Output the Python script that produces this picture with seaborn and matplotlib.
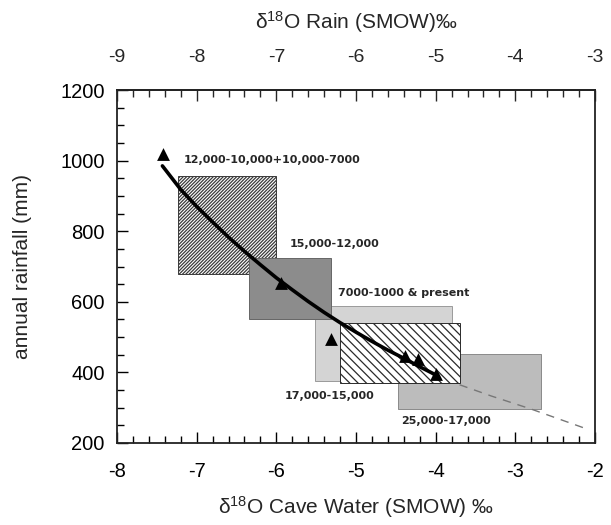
import numpy as np
import pandas as pd
import matplotlib
matplotlib.use("Agg")
import matplotlib.pyplot as plt
from matplotlib.patches import Rectangle
from matplotlib.ticker import MultipleLocator, FixedLocator
import seaborn as sns

# ---- data ----
curve_x = [-7.43, -7.2, -7.0, -6.8, -6.6, -6.4, -6.2, -6.0, -5.8, -5.6,
           -5.4, -5.2, -5.0, -4.8, -4.6, -4.4, -4.2, -4.0]
curve_y = [985, 918, 870, 826, 783, 743, 705, 668, 634, 601,
           570, 541, 514, 488, 463, 440, 416, 393]
dash_x = [-3.7, -3.3, -2.8, -2.13]
dash_y = [365, 333, 296, 242]
tri_x = [-7.42, -5.94, -5.31, -4.38, -4.22, -4.0]
tri_y = [1018, 654, 494, 446, 437, 395]

rain_ticks = [-9, -8, -7, -6, -5, -4, -3]

box_names = ["12,000-10,000+10,000-7000", "17,000-15,000", "25,000-17,000",
             "15,000-12,000", "7000-1000 & present"]
box_x0 = [-7.24, -5.51, -4.47, -6.34, -5.2]
box_x1 = [-6.01, -3.80, -2.675, -5.32, -3.7]
box_y0 = [680, 376, 295, 550, 371]
box_y1 = [956, 588, 453, 725, 541]
box_face = ["white", "#d4d4d4", "#bcbcbc", "#8c8c8c", "white"]
box_hatch = ["/" * 10, None, None, None, "\\" * 4]
box_edge = ["#3a3a3a", "#9a9a9a", "#8a8a8a", "#666666", "#2a2a2a"]

label_x = [-7.16, -4.77, -4.43, -5.83, -5.22]
label_y = [1001, 333, 262, 763, 624]
label_ha = ["left", "right", "left", "left", "left"]

sns.set_style("ticks")
plt.rcParams["font.family"] = ["Liberation Sans", "DejaVu Sans"]
plt.rcParams["mathtext.default"] = "regular"
plt.rcParams["axes.unicode_minus"] = False
plt.rcParams["hatch.linewidth"] = 0.9

fig = plt.figure(figsize=(6.11, 5.25), dpi=100)
ax = fig.add_axes([117 / 611, 1 - 443 / 525, (595 - 117) / 611, (443 - 90) / 525])

for i in range(len(box_names)):
    r = Rectangle((box_x0[i], box_y0[i]), box_x1[i] - box_x0[i], box_y1[i] - box_y0[i],
                  facecolor=box_face[i], edgecolor=box_edge[i], hatch=box_hatch[i],
                  linewidth=0.7, zorder=2 + i * 0.1)
    ax.add_patch(r)
    ax.text(label_x[i], label_y[i], box_names[i], ha=label_ha[i], va="center",
            fontsize=8, fontweight="bold", family="DejaVu Sans", zorder=6)

sns.lineplot(x=dash_x, y=dash_y, ax=ax, color="#777777", lw=1.0,
             linestyle=(0, (6, 5)), zorder=3.45)
sns.lineplot(x=curve_x, y=curve_y, ax=ax, color="black", lw=2.6, zorder=4)
sns.scatterplot(x=tri_x, y=tri_y, ax=ax, marker="^", color="black", s=85,
                edgecolor="black", linewidth=0, zorder=5)

ax.set_xlim(-8, -2)
ax.set_ylim(200, 1200)
ax.xaxis.set_major_locator(MultipleLocator(1))
ax.xaxis.set_minor_locator(MultipleLocator(0.2))
ax.yaxis.set_major_locator(MultipleLocator(200))
ax.yaxis.set_minor_locator(MultipleLocator(50))
ax.tick_params(which="both", direction="in", right=False, top=False, width=1.0, colors="black")
ax.tick_params(which="major", length=8, labelsize=14.5)
ax.tick_params(axis="x", which="major", pad=14)
ax.tick_params(axis="y", which="major", pad=9)
ax.tick_params(which="minor", length=5)
for s in ax.spines.values():
    s.set_linewidth(1.3)
    s.set_color("#222222")

ax.set_xlabel("δ$^{18}$O Cave Water (SMOW) ‰", fontsize=15, labelpad=9)
ax.set_ylabel("annual rainfall (mm)", fontsize=15, labelpad=20)

sec = ax.secondary_xaxis("top", functions=(lambda x: x - 1, lambda x: x + 1))
sec.xaxis.set_major_locator(FixedLocator(rain_ticks))
sec.xaxis.set_minor_locator(MultipleLocator(0.2))
sec.tick_params(which="both", direction="in", width=1.0)
sec.tick_params(which="major", length=8, labelsize=14, pad=17)
sec.tick_params(which="minor", length=5)
sec.set_xlabel("δ$^{18}$O Rain (SMOW)‰", fontsize=15, labelpad=15)
sec.spines["top"].set_linewidth(1.3)

fig.savefig("out.png", dpi=100)
